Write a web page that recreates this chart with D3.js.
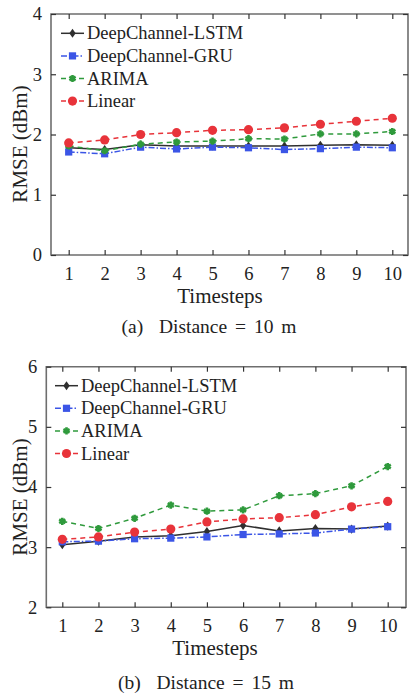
<!DOCTYPE html>
<html><head><meta charset="utf-8">
<script src="https://cdn.jsdelivr.net/npm/d3@7"></script>
<style>body{margin:0;background:#fff}svg{display:block}text{font-family:"Liberation Serif","Times New Roman",serif;fill:#222}</style>
</head><body><svg id="c" width="409" height="696"></svg>
<script>
const timesteps = [1,2,3,4,5,6,7,8,9,10];
const seriesNames = ["DeepChannel-LSTM","DeepChannel-GRU","ARIMA","Linear"];
// Distance = 10 m
const lstm10   = [1.78,1.75,1.83,1.81,1.81,1.81,1.81,1.82,1.83,1.82];
const gru10    = [1.71,1.68,1.79,1.76,1.79,1.78,1.75,1.765,1.79,1.78];
const arima10  = [1.81,1.73,1.84,1.875,1.89,1.93,1.925,2.01,2.01,2.05];
const linear10 = [1.86,1.91,2.00,2.03,2.07,2.08,2.11,2.17,2.22,2.27];
// Distance = 15 m
const lstm15   = [3.04,3.10,3.17,3.19,3.26,3.36,3.27,3.31,3.30,3.35];
const gru15    = [3.09,3.10,3.14,3.15,3.17,3.21,3.22,3.235,3.30,3.34];
const arima15  = [3.43,3.31,3.48,3.70,3.60,3.62,3.855,3.89,4.02,4.34];
const linear15 = [3.13,3.17,3.25,3.30,3.42,3.47,3.49,3.54,3.67,3.76];
const yTicks10 = [0,1,2,3,4];
const yTicks15 = [2,3,4,5,6];
const captions = ["(a)  Distance = 10 m","(b)  Distance = 15 m"];

const styles = [
  {color:"#2f2f2f", dash:null, marker:"diamond"},
  {color:"#3b55e6", dash:"6,2,1.5,2", marker:"square"},
  {color:"#2f9a3c", dash:"5,4", marker:"star"},
  {color:"#e8333a", dash:"5,4", marker:"circle"}
];
const svg = d3.select("#c");

function marker(g, type, color, x, y){
  if(type==="circle") g.append("circle").attr("cx",x).attr("cy",y).attr("r",4.6).attr("fill",color);
  else if(type==="square") g.append("rect").attr("x",x-3.6).attr("y",y-3.6).attr("width",7.2).attr("height",7.2).attr("fill",color);
  else if(type==="diamond") g.append("path").attr("d",d3.symbol(d3.symbolDiamond2,40)()).attr("transform",`translate(${x},${y}) scale(0.8,1.15)`).attr("fill",color);
  else if(type==="star") g.append("path").attr("d",d3.symbol(d3.symbolAsterisk,36)()).attr("transform",`translate(${x},${y})`).attr("fill",color).attr("stroke",color).attr("stroke-width",2.6)
    .clone().attr("d",d3.symbol(d3.symbolCircle,14)()).attr("stroke","none");
}

function panel(cfg){
  const {left,right,top,bottom,x1,x10,yDom,yTicks,data,legX,legY,caption,capY,labX,ylabY} = cfg;
  const x = d3.scaleLinear().domain([1,10]).range([x1,x10]);
  const y = d3.scaleLinear().domain(yDom).range([bottom,top]);
  const g = svg.append("g");
  const axisCol = "#6e6e6e";
  g.append("path").attr("d",`M${left},${top}H${right}V${bottom}H${left}Z`).attr("fill","none").attr("stroke",axisCol).attr("stroke-width",1.6);
  const ax = d3.axisBottom(x).tickValues(timesteps).tickSize(-5).tickPadding(12).tickSizeOuter(0).tickFormat(d3.format("d"));
  const gb = g.append("g").attr("transform",`translate(0,${bottom})`).call(ax);
  const gt = g.append("g").attr("transform",`translate(0,${top})`).call(d3.axisTop(x).tickValues(timesteps).tickSize(-5).tickFormat("").tickSizeOuter(0));
  const ay = d3.axisLeft(y).tickValues(yTicks).tickSize(-5).tickPadding(9).tickSizeOuter(0).tickFormat(d3.format("d"));
  const gl = g.append("g").attr("transform",`translate(${left},0)`).call(ay);
  const gr = g.append("g").attr("transform",`translate(${right},0)`).call(d3.axisRight(y).tickValues(yTicks).tickSize(-5).tickFormat("").tickSizeOuter(0));
  [gb,gt,gl,gr].forEach(a=>{a.attr("font-family",null);a.select(".domain").remove();a.selectAll(".tick line").attr("stroke","#333").attr("stroke-width",1.2);
    a.selectAll("text").attr("font-size",18.5).attr("fill","#222").attr("font-family","Liberation Serif");});
  gb.selectAll("text").attr("dy","0.71em");
  data.forEach((vals,i)=>{
    const s = styles[i];
    const line = d3.line().x((d,j)=>x(timesteps[j])).y(d=>y(d));
    g.append("path").datum(vals).attr("d",line).attr("fill","none").attr("stroke",s.color).attr("stroke-width",1.5)
      .attr("stroke-dasharray",s.dash);
    vals.forEach((v,j)=>marker(g,s.marker,s.color,x(timesteps[j]),y(v)));
  });
  seriesNames.forEach((n,i)=>{
    const s = styles[i];
    const yy = legY + i*22.6;
    g.append("line").attr("x1",legX).attr("x2",legX+23).attr("y1",yy).attr("y2",yy).attr("stroke",s.color).attr("stroke-width",1.5).attr("stroke-dasharray",s.dash);
    marker(g,s.marker,s.color,legX+11.5,yy);
    g.append("text").attr("x",legX+26).attr("y",yy+6).attr("font-size",18.5).text(n);
  });
  g.append("text").attr("x",labX).attr("y",bottom+48).attr("text-anchor","middle").attr("font-size",21).text("Timesteps");
  g.append("text").attr("transform",`translate(${27},${ylabY}) rotate(-90)`).attr("text-anchor","middle").attr("font-size",21).text("RMSE (dBm)");
  g.append("text").attr("x",cfg.capX).attr("y",capY).attr("text-anchor","middle").attr("font-size",19.5).attr("word-spacing",3).style("white-space","pre").text(caption);
}

panel({left:51,right:408,top:14,bottom:255,x1:68.7,x10:392.3,yDom:[0,4],yTicks:yTicks10,
  data:[lstm10,gru10,arima10,linear10],legX:61,legY:33.3,caption:captions[0],capY:333,capX:209,labX:220,ylabY:144});
panel({left:46.3,right:406,top:366.7,bottom:607.3,x1:62.3,x10:387.7,yDom:[2,6],yTicks:yTicks15,
  data:[lstm15,gru15,arima15,linear15],legX:55,legY:385.7,caption:captions[1],capY:689,capX:206,labX:215,ylabY:497});
</script></body></html>
